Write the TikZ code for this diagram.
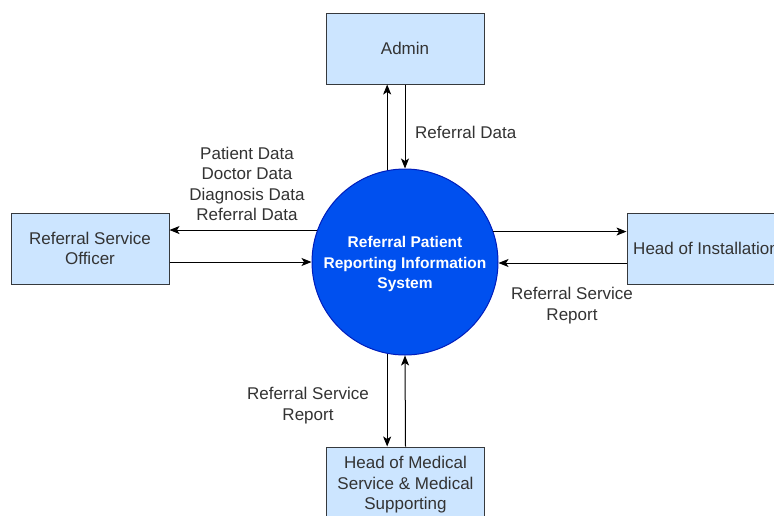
\documentclass[tikz,border=0pt]{standalone}
\usepackage{fontspec}
\setmainfont{Liberation Sans}
\usetikzlibrary{arrows.meta}
\definecolor{boxfill}{HTML}{CCE5FF}
\definecolor{boxline}{HTML}{36393D}
\definecolor{sysfill}{HTML}{0050EF}
\definecolor{sysline}{HTML}{001DBC}
\definecolor{txt}{HTML}{333333}
\tikzset{
  entity/.style={draw=boxline, fill=boxfill, line width=1pt, minimum width=158pt,
    minimum height=71pt, align=center, text=txt, font=\fontsize{17pt}{20.5pt}\selectfont, inner sep=0pt},
  process/.style={circle, draw=sysline, fill=sysfill, line width=1pt, minimum size=186pt, inner sep=0pt},
  processtext/.style={align=center, text=white, font=\fontsize{15.5pt}{20.5pt}\selectfont\bfseries, inner sep=0pt},
  flow/.style={draw=black, line width=1pt, -{Stealth[length=10pt,width=8pt,inset=2.5pt]}},
  flowlabel/.style={align=center, text=txt, font=\fontsize{17pt}{20.5pt}\selectfont, inner sep=0pt}
}
\begin{document}
\begin{tikzpicture}[x=1pt,y=-1pt]
\useasboundingbox (0,0) rectangle (774,515);
\fill[white] (0,0) rectangle (774,515);
\begin{scope}
\clip (0,0) rectangle (774,515);
\node[process] (sys) at (405,262) {};
\node[processtext] (systext) at (405,264) {Referral Patient\\Reporting Information\\System};
\node[entity] (admin) at (405,48.5) {Admin};
\node[entity] (rso) at (90,248.5) {Referral Service\\Officer};
\node[entity] (hoi) at (706,248.5) {Head of Installation};
\node[entity] (hms) at (405.5,482.5) {};
\node[flowlabel] (hmstext) at (405.5,485) {Head of Medical\\Service \& Medical\\Supporting};

% Admin
\draw[flow] (sys.101) -- (sys.101 |- admin.south);
\draw[flow] (admin.south) -- (sys.north);
% Referral Service Officer
\draw[flow] (sys.160) -- (sys.160 -| rso.east);
\draw[flow] (rso.east |- sys.west) -- (sys.west);
% Head of Installation
\draw[flow] (sys.19.5) -- (sys.19.5 -| hoi.west);
\coordinate (hoiin) at (hoi.west |- 0,263);
\draw[flow] (hoiin) -- (hoiin -| sys.east);
% Head of Medical Service
\draw[flow] (sys.259.5) -- (sys.259.5 |- hms.north);
\draw[flow] (hms.north) -- (sys.south);
\end{scope}

\node[flowlabel, anchor=west] (l1) at (415,132) {Referral Data};
\node[flowlabel] (l2) at (247,184) {Patient Data\\Doctor Data\\Diagnosis Data\\Referral Data};
\node[flowlabel] (l3) at (572,305.5) {Referral Service\\Report};
\node[flowlabel] (l4) at (308,405.5) {Referral Service\\Report};
\end{tikzpicture}
\end{document}
